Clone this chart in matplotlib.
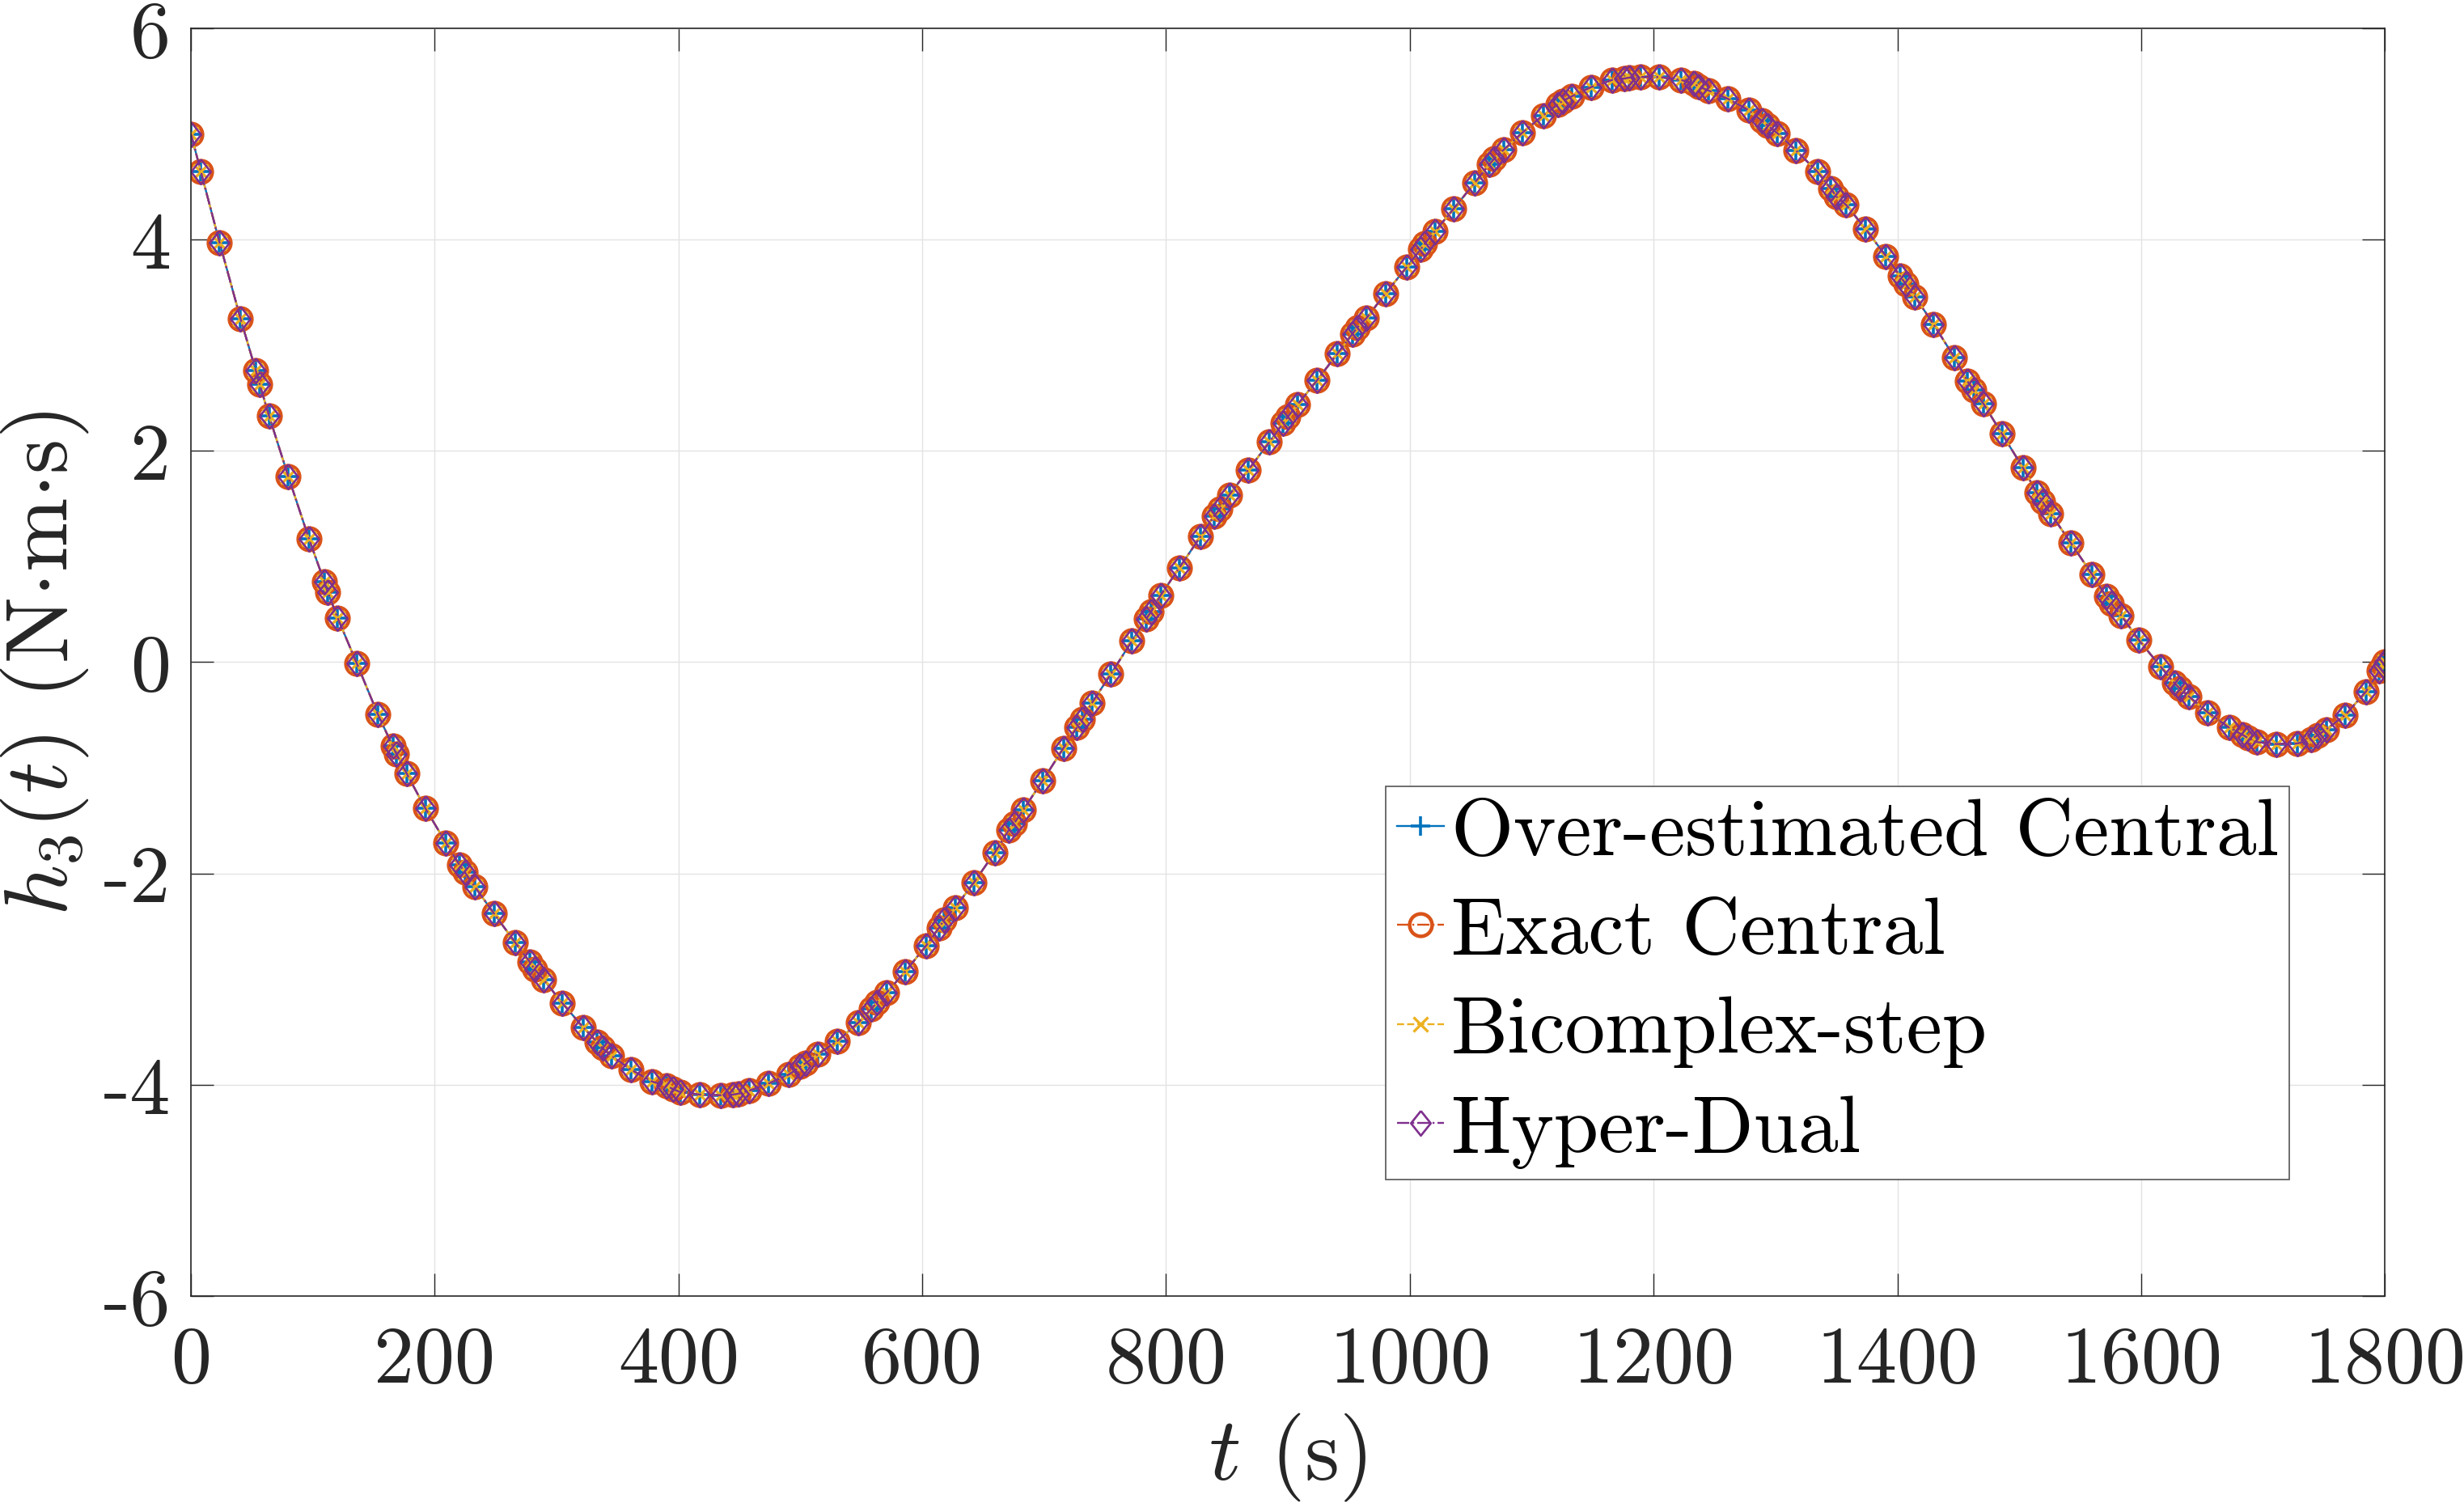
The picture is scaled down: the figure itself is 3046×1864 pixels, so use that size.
import numpy as np
import matplotlib
matplotlib.use('Agg')
import matplotlib.pyplot as plt

# time stamps of the solver output (s) and the resulting h3 (N.m.s)
t = [0, 8.1, 23.5, 40.7, 53.2, 56.4, 64.1, 79.8, 96.9, 109.3, 112.3, 120.3,
     136.0, 153.4, 165.6, 168.6, 177.0, 192.2, 209.2, 220.2, 224.8, 232.8,
     248.6, 265.9, 278.0, 281.9, 289.2, 304.7, 321.8, 333.2, 337.5, 345.1,
     361.1, 378.4, 390.3, 395.4, 401.7, 417.7, 434.8, 444.9, 449.3, 457.6,
     473.6, 490.6, 500.0, 504.6, 514.0, 530.0, 547.6, 558.4, 562.5, 570.6,
     586.0, 603.1, 613.9, 618.0, 626.9, 642.4, 659.4, 670.8, 675.4, 683.0,
     698.7, 715.8, 726.9, 731.3, 739.1, 754.8, 771.9, 783.7, 787.9, 795.4,
     810.9, 828.5, 839.5, 844.2, 851.8, 867.2, 884.8, 896.2, 900.1, 908.2,
     923.7, 940.6, 952.8, 956.9, 964.4, 979.9, 997.5, 1008.8, 1012.3, 1020.5,
     1036.2, 1053.5, 1065.2, 1069.2, 1076.8, 1092.2, 1109.3, 1121.5, 1125.3, 1132.9,
     1148.6, 1166.2, 1176.2, 1180.3, 1189.2, 1204.6, 1222.3, 1233.1, 1237.1, 1245.3,
     1260.7, 1278.1, 1288.6, 1293.6, 1301.7, 1316.6, 1334.5, 1345.4, 1350.0, 1358.1,
     1373.8, 1390.6, 1402.0, 1406.8, 1414.5, 1429.8, 1446.9, 1457.5, 1462.4, 1470.5,
     1485.9, 1503.0, 1514.4, 1519.2, 1526.0, 1542.3, 1559.8, 1571.3, 1575.6, 1583.6,
     1598.3, 1615.8, 1627.2, 1631.7, 1639.4, 1654.8, 1672.2, 1683.3, 1687.7, 1695.2,
     1710.7, 1728.0, 1739.4, 1744.5, 1751.8, 1767.3, 1784.4, 1795.5, 1798.5, 1800.0]

h3 = [5.00, 4.645, 3.97, 3.25, 2.76, 2.63, 2.33, 1.76, 1.165, 0.765, 0.663, 0.42,
      -0.01, -0.495, -0.796, -0.87, -1.054, -1.382, -1.71, -1.919, -1.99, -2.124,
      -2.379, -2.652, -2.839, -2.906, -3.003, -3.228, -3.457, -3.595, -3.653, -3.727,
      -3.858, -3.97, -4.011, -4.041, -4.07, -4.093, -4.099, -4.093, -4.084, -4.058,
      -3.99, -3.903, -3.829, -3.794, -3.714, -3.59, -3.411, -3.28, -3.224, -3.13,
      -2.929, -2.685, -2.512, -2.437, -2.324, -2.085, -1.803, -1.593, -1.527, -1.395,
      -1.123, -0.814, -0.617, -0.542, -0.387, -0.111, 0.199, 0.41, 0.48, 0.63,
      0.893, 1.193, 1.385, 1.451, 1.582, 1.816, 2.083, 2.265, 2.326, 2.442,
      2.665, 2.92, 3.106, 3.168, 3.256, 3.489, 3.74, 3.907, 3.962, 4.077,
      4.295, 4.541, 4.711, 4.766, 4.848, 5.011, 5.175, 5.28, 5.312, 5.356,
      5.443, 5.512, 5.525, 5.534, 5.539, 5.539, 5.512, 5.476, 5.449, 5.41,
      5.334, 5.225, 5.127, 5.079, 5.006, 4.847, 4.641, 4.482, 4.407, 4.327,
      4.103, 3.844, 3.659, 3.58, 3.46, 3.196, 2.883, 2.659, 2.574, 2.449,
      2.16, 1.841, 1.602, 1.518, 1.403, 1.129, 0.83, 0.621, 0.556, 0.442,
      0.207, -0.04, -0.197, -0.249, -0.327, -0.476, -0.62, -0.688, -0.718, -0.757,
      -0.775, -0.77, -0.731, -0.693, -0.637, -0.502, -0.279, -0.08, -0.03, 0.0]

# all four derivative methods give the same curve
methods = ['Over-estimated Central', 'Exact Central', 'Bicomplex-step', 'Hyper-Dual']

xticks = [0, 200, 400, 600, 800, 1000, 1200, 1400, 1600, 1800]
yticks = [-6, -4, -2, 0, 2, 4, 6]

plt.rcParams['font.family'] = 'cmr10'
plt.rcParams['mathtext.fontset'] = 'cm'
plt.rcParams['axes.unicode_minus'] = False

fig = plt.figure(figsize=(30.46, 18.65), dpi=100)
ax = fig.add_axes([0.0775, 0.1405, 0.8904, 0.8402])

diamond = [(0, 1), (0.8, 0), (0, -1), (-0.8, 0), (0, 1)]
styles = [
    dict(color='#0072BD', ls='-', marker='+', ms=17, mew=2.6, lw=1.7),
    dict(color='#D95319', ls='-.', marker='o', ms=20, mew=3.2, lw=1.7, mfc='none'),
    dict(color='#EDB120', ls='--', marker='x', ms=13, mew=2.4, lw=1.7),
    dict(color='#7E2F8E', ls='-.', marker=diamond, ms=22, mew=1.9, lw=1.7, mfc='none'),
]
for name, st in zip(methods, styles):
    ax.plot(t, h3, label=name, **st)

ax.set_xlim(0, 1800)
ax.set_ylim(-6, 6)
ax.set_xticks(xticks)
ax.set_yticks(yticks)
ax.grid(True, color='#E3E3E3', lw=1.0)
ax.set_axisbelow(True)
ax.tick_params(direction='in', length=20, width=1.0, colors='#262626',
               labelsize=72, top=True, right=True)
ax.tick_params(axis='x', pad=26)
ax.tick_params(axis='y', pad=18)
for sp in ax.spines.values():
    sp.set_color('#262626')
    sp.set_linewidth(1.2)

ax.set_xlabel(r'$t$ (s)', fontsize=79, labelpad=12, color='#262626')
ax.set_ylabel(r'$h_3(t)$ (N$\cdot$m$\cdot$s)', fontsize=79, labelpad=11, color='#262626')

leg = ax.legend(loc='upper left', bbox_to_anchor=(0.5446, 0.402), borderaxespad=0,
                fontsize=71.5, numpoints=1, handlelength=0.58, handletextpad=0.09,
                borderpad=0.14, labelspacing=0.34, fancybox=False, framealpha=1)
leg.get_frame().set_edgecolor('#555555')
leg.get_frame().set_linewidth(1.2)

fig.savefig('out.png', dpi=100)
